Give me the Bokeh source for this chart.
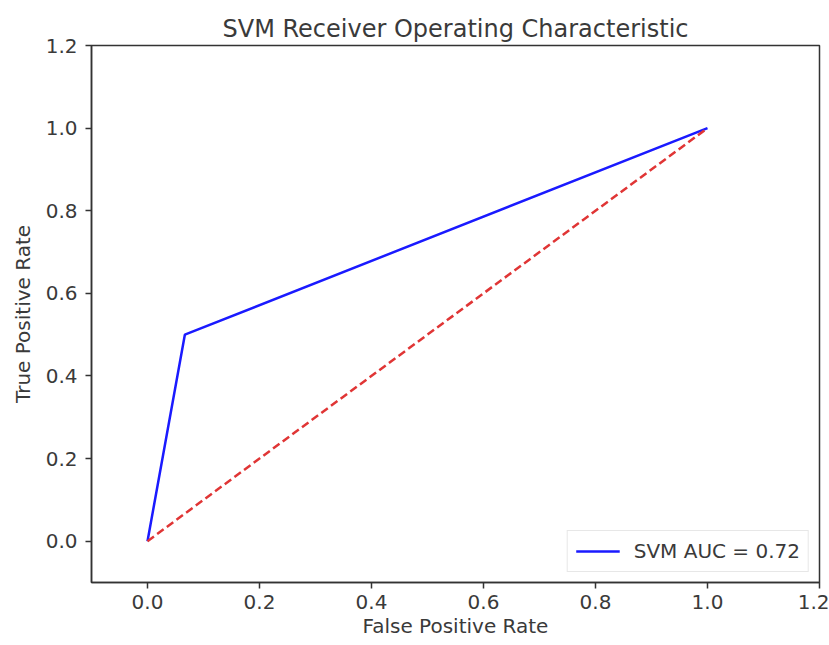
from bokeh.plotting import figure
from bokeh.models import Range1d, FixedTicker, Legend, LegendItem
from bokeh.embed import file_html
from bokeh.resources import INLINE

# Data
fpr = [0.0, 0.0667, 1.0]
tpr = [0.0, 0.5, 1.0]
chance_x = [0.0, 1.0]
chance_y = [0.0, 1.0]
auc_label = "SVM AUC = 0.72"
ticks = [0.0, 0.2, 0.4, 0.6, 0.8, 1.0, 1.2]
tick_labels = {0.0: "0.0", 0.2: "0.2", 0.4: "0.4", 0.6: "0.6", 0.8: "0.8", 1.0: "1.0", 1.2: "1.2"}

FONT = "DejaVu Sans"
TXT = "#3a3a3a"

p = figure(width=829, height=645, output_backend="svg", toolbar_location=None,
           x_range=Range1d(-0.1, 1.2), y_range=Range1d(-0.1, 1.2),
           min_border_left=91, min_border_right=10, min_border_top=45, min_border_bottom=63)
p.frame_width = 728
p.frame_height = 537

p.title.text = "SVM Receiver Operating Characteristic"
p.title.align = "center"
p.title.text_font = FONT
p.title.text_font_size = "24px"
p.title.text_font_style = "normal"
p.title.text_color = TXT
p.title.offset = 0
p.title.standoff = 6

p.grid.visible = False
p.outline_line_color = "#333333"
p.outline_line_width = 1.5

for ax in (p.xaxis[0], p.yaxis[0]):
    ax.ticker = FixedTicker(ticks=ticks)
    ax.major_label_overrides = tick_labels
    ax.minor_tick_line_color = None
    ax.major_label_text_font = FONT
    ax.major_label_text_font_size = "20px"
    ax.major_label_text_color = TXT
    ax.axis_label_text_font = FONT
    ax.axis_label_text_font_size = "20px"
    ax.axis_label_text_font_style = "normal"
    ax.axis_label_text_color = TXT
    ax.axis_line_color = "#333333"
    ax.axis_line_width = 1.5
    ax.major_tick_line_color = "#333333"
    ax.major_tick_line_width = 1.5
    ax.major_tick_out = 6
    ax.major_tick_in = 0

p.xaxis.major_label_standoff = 6
p.xaxis.axis_label_standoff = 2
p.yaxis.major_label_standoff = 8
p.yaxis.axis_label_standoff = 8

p.xaxis.axis_label = "False Positive Rate"
p.yaxis.axis_label = "True Positive Rate"

roc = p.line(fpr, tpr, line_color="#1a1aff", line_width=2.5)
p.line(chance_x, chance_y, line_color="#e03535", line_width=2.5, line_dash="8 4")

legend = Legend(items=[LegendItem(label=auc_label, renderers=[roc])],
                location="bottom_right")
legend.label_text_font = FONT
legend.label_text_font_size = "20px"
legend.label_text_color = TXT
legend.border_line_color = "#d0d0d0"
legend.glyph_width = 44
legend.label_standoff = 14
legend.margin = 10
legend.padding = 8
p.add_layout(legend)

open("out.html", "w").write(file_html(p, INLINE))
